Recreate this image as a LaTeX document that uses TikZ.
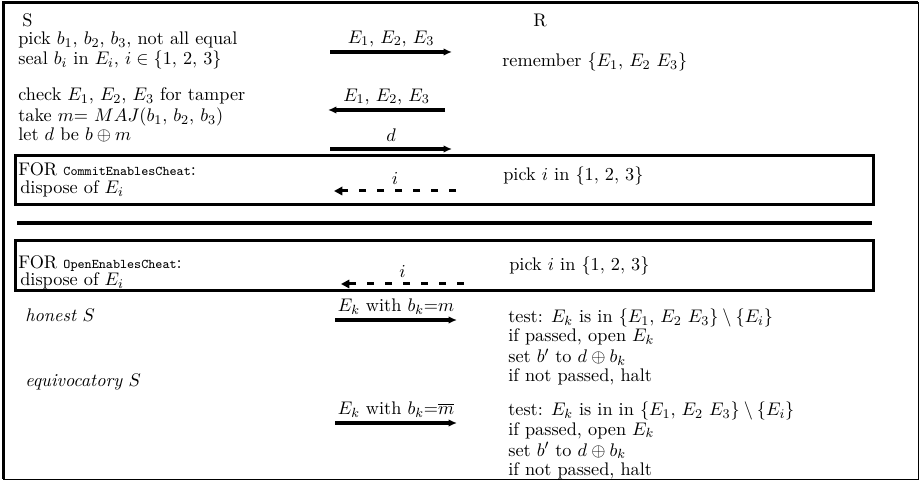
\documentclass[tikz,border=0pt]{standalone}
\usetikzlibrary{arrows.meta}
\begin{document}
\begin{tikzpicture}[x=0.6pt,y=-0.6pt,
  txt/.style={anchor=base west,inner sep=0pt,font=\fontsize{10.95}{13}\selectfont},
  lbl/.style={anchor=base,inner sep=0pt,font=\fontsize{10.95}{13}\selectfont},
  msg/.style={line width=2.4pt,-{Latex[length=5pt,width=4.5pt]}},
  dmsg/.style={line width=1.8pt,dash pattern=on 4.2pt off 6.6pt,-{Triangle[length=5pt,width=5pt]}},
  frame/.style={line width=1.8pt}]
\newcommand{\cheatname}[1]{{\fontsize{8}{9.5}\selectfont\ttfamily #1}}
\useasboundingbox (0,0) rectangle (920,481);
\draw[line width=0.6pt] (3,3) rectangle (918,479);
\draw[line width=1.8pt] (3,479) -- (3,3) -- (918,3);
\node[txt] (S) at (22,27) {S};
\node[txt] (R) at (533,27) {R};
\node[txt] (l1) at (18,45) {pick $b_1$, $b_2$, $b_3$, not all equal};
\node[txt] (l2) at (18,65) {seal $b_i$ in $E_i$, $i\in\{1,\,2,\,3\}$};
\node[txt] (l3) at (18,101) {check $E_1$, $E_2$, $E_3$ for tamper};
\node[txt] (l4) at (18,122) {take $m{=}$ $MAJ(b_1,\,b_2,\,b_3)$};
\node[txt] (l5) at (18,141) {let $d$ be $b\oplus m$};
\node[txt] (r1) at (502,67) {remember $\{E_1$, $E_2$ $E_3\}$};
\coordinate (a1s) at (330,52); \coordinate (a1e) at (452,52);
\draw[msg] (a1s) -- (a1e) node[lbl,midway,above=2pt] {$E_1$, $E_2$, $E_3$};
\coordinate (a2s) at (445,110); \coordinate (a2e) at (328,110);
\draw[msg] (a2s) -- (a2e) node[lbl,midway,above=2pt] {$E_1$, $E_2$, $E_3$};
\coordinate (a3s) at (330,149); \coordinate (a3e) at (452,149);
\draw[msg] (a3s) -- (a3e) node[lbl,midway,above=3pt] {$d$};
\draw[frame] (15,156) rectangle (873,205);
\node[txt] (f1) at (18,176) {FOR \cheatname{CommitEnablesCheat}:};
\node[txt] (d1) at (20,194) {dispose of $E_i$};
\node[txt] (p1) at (503,181) {pick $i$ in $\{1,\,2,\,3\}$};
\coordinate (b1s) at (456,191); \coordinate (b1e) at (334,191);
\draw[dmsg] (b1s) -- (b1e) node[lbl,pos=0.5,above=3pt] {$i$};
\draw[line width=2.4pt] (17,223) -- (872,223);
\draw[frame] (15,241) rectangle (873,291);
\node[txt] (f2) at (18,269) {FOR \cheatname{OpenEnablesCheat}:};
\node[txt] (d2) at (20,286) {dispose of $E_i$};
\node[txt] (p2) at (509,271) {pick $i$ in $\{1,\,2,\,3\}$};
\coordinate (b2s) at (464,284); \coordinate (b2e) at (341,284);
\draw[dmsg] (b2s) -- (b2e) node[lbl,pos=0.5,above=3pt] {$i$};
\node[txt] (h) at (25,322) {\itshape honest $S$};
\node[txt] (e) at (25,387) {\itshape equivocatory $S$};
\coordinate (c1s) at (335,320); \coordinate (c1e) at (457,320);
\draw[msg] (c1s) -- (c1e) node[lbl,midway,above=2pt] {$E_k$ with $b_k{=}m$};
\coordinate (c2s) at (335,423); \coordinate (c2e) at (457,423);
\draw[msg] (c2s) -- (c2e) node[lbl,midway,above=2pt] {$E_k$ with $b_k{=}\overline{m}$};
\node[txt] (t1) at (508,323) {test: $E_k$ is in $\{E_1$, $E_2$ $E_3\}\setminus\{E_i\}$};
\node[txt] (t2) at (508,342) {if passed, open $E_k$};
\node[txt] (t3) at (508,363) {set $b'$ to $d\oplus b_k$};
\node[txt] (t4) at (508,382) {if not passed, halt};
\node[txt] (u1) at (508,416) {test: $E_k$ is in in $\{E_1$, $E_2$ $E_3\}\setminus\{E_i\}$};
\node[txt] (u2) at (508,435) {if passed, open $E_k$};
\node[txt] (u3) at (508,456) {set $b'$ to $d\oplus b_k$};
\node[txt] (u4) at (508,475) {if not passed, halt};
\end{tikzpicture}
\end{document}
